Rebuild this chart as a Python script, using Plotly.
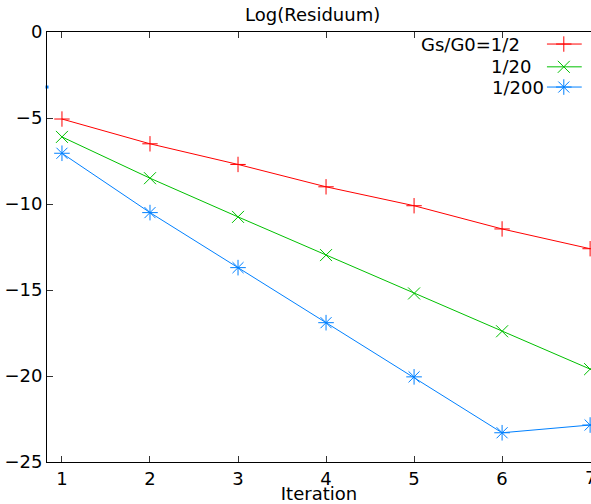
import plotly.graph_objects as go

iterations = [1, 2, 3, 4, 5, 6, 7]
res_half = [-5.06, -6.5, -7.7, -9.0, -10.1, -11.45, -12.6]
res_20 = [-6.1, -8.5, -10.75, -12.97, -15.2, -17.4, -19.6]
res_200 = [-7.05, -10.5, -13.7, -16.9, -20.05, -23.3, -22.85]
stray_x = [0.83]
stray_y = [-3.2]

series_names = ["Gs/G0=1/2", "1/20", "1/200"]
series_vals = [res_half, res_20, res_200]
colors = ["#ff0000", "#00c000", "#0080ff"]
symbols = ["cross-thin", "x-thin", "asterisk"]
sizes = [11, 12, 13]

y_ticks = [0, -5, -10, -15, -20, -25]
x_ticks = [1, 2, 3, 4, 5, 6, 7]

FONT = "DejaVu Sans"
FS = 18
fig = go.Figure()

for name, vals, col, sym, sz in zip(series_names, series_vals, colors, symbols, sizes):
    fig.add_trace(go.Scatter(
        x=iterations, y=vals, mode="lines+markers", name=name,
        line=dict(color=col, width=1),
        marker=dict(symbol=sym, size=sz, color=col, line=dict(color=col, width=1)),
        showlegend=False, cliponaxis=True))

fig.add_trace(go.Scatter(x=stray_x, y=stray_y, mode="markers",
                         marker=dict(symbol="square", size=3, color="#0080ff"),
                         showlegend=False, cliponaxis=False))

# gnuplot-style key (text left, sample right) on an overlay axis
leg_y = [0.972, 0.919, 0.872]
leg_text_x = [0.873, 0.893, 0.917]
for name, col, sym, sz, yy, tx in zip(series_names, colors, symbols, sizes, leg_y, leg_text_x):
    fig.add_trace(go.Scatter(
        x=[0.919, 0.950, 0.983], y=[yy, yy, yy], xaxis="x2", yaxis="y2",
        mode="lines", line=dict(color=col, width=1), showlegend=False,
        cliponaxis=False, hoverinfo="skip"))
    fig.add_trace(go.Scatter(
        x=[0.950], y=[yy], xaxis="x2", yaxis="y2", mode="markers",
        marker=dict(symbol=sym, size=sz, color=col, line=dict(color=col, width=1)),
        showlegend=False, cliponaxis=False, hoverinfo="skip"))
    fig.add_annotation(x=tx, y=yy, xref="x2", yref="y2", text=name,
                       showarrow=False, xanchor="right", yanchor="middle",
                       font=dict(family=FONT, size=FS, color="black"))

# last x tick label, clipped by the right edge in the original
fig.add_annotation(x=7, y=-0.035, xref="x", yref="paper", text="7",
                   showarrow=False, xanchor="center", yanchor="middle",
                   font=dict(family=FONT, size=FS, color="black"))

fig.update_layout(
    width=591, height=504,
    margin=dict(l=47, r=0, t=32, b=42),
    paper_bgcolor="white", plot_bgcolor="white",
    font=dict(family=FONT, size=FS, color="black"),
    title=dict(text="Log(Residuum)", x=0.529, xanchor="center", y=0.971, yanchor="middle",
               font=dict(family=FONT, size=FS, color="black")),
    xaxis=dict(range=[0.83, 7.01], tickvals=x_ticks, ticktext=["1", "2", "3", "4", "5", "6", ""],
               ticks="inside", ticklen=6,
               tickcolor="#333", showline=True, linecolor="black", linewidth=1,
               mirror="ticks", showgrid=False, zeroline=False,
               title=dict(text="Iteration", standoff=0, font=dict(size=FS))),
    yaxis=dict(range=[-25, 0], tickvals=y_ticks, ticks="inside", ticklen=6,
               tickcolor="#333", showline=True, linecolor="black", linewidth=1,
               mirror=False, showgrid=False, zeroline=False),
    xaxis2=dict(range=[0, 1], overlaying="x", visible=False, fixedrange=True),
    yaxis2=dict(range=[0, 1], overlaying="y", visible=False, fixedrange=True),
)

fig.write_html("out.html")
